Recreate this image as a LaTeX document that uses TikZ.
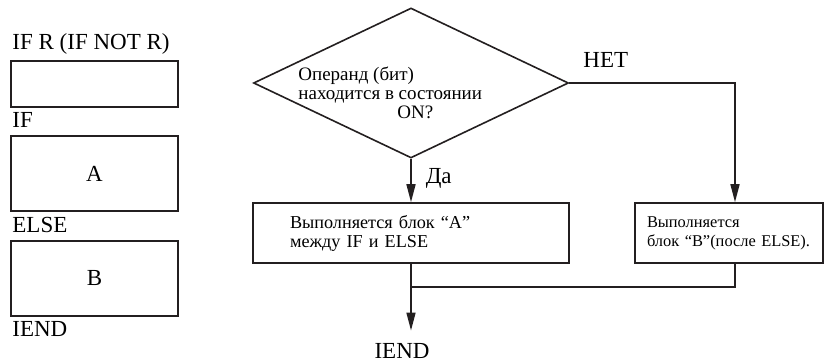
\documentclass[tikz,border=0pt]{standalone}
\usepackage{fontspec}
\setmainfont{Liberation Serif}
\usetikzlibrary{shapes.geometric,arrows.meta}
\definecolor{flowline}{RGB}{35,31,32}
\tikzset{
  flowlink/.style={draw=flowline,line width=0.8pt},
  flowarr/.style={flowlink,-{Triangle[length=9pt,width=4.5pt]}},
  flowbox/.style={flowlink,rectangle,inner sep=0pt},
  flowcond/.style={flowlink,diamond,inner sep=0pt,minimum width=157.5pt,minimum height=75pt},
  biglabel/.style={font=\fontsize{11.5}{13}\selectfont,inner sep=0pt},
  smalltext/.style={font=\fontsize{#1}{9.5}\selectfont,align=left,inner sep=0pt},
  smalltext/.default=8.5
}
\newcommand{\ladderlabel}[3]{%
  \node[biglabel,anchor=base west] (#1) at (12,#2) {#3};
}

\begin{document}
\begin{tikzpicture}[x=0.5pt,y=0.5pt]
    \useasboundingbox (0,0) rectangle (824,362);
    % left column: the instruction layout
    \ladderlabel{lhead}{312}{IF R (IF NOT R)}
    \node[flowbox,minimum width=83.5pt,minimum height=23pt] (lcond) at (94.5,278) {};
    \ladderlabel{lif}{234}{IF}
    \node[flowbox,biglabel,minimum width=83.5pt,minimum height=37.5pt] (lblka) at (94.5,188.5) {A};
    \ladderlabel{lelse}{129}{ELSE}
    \node[flowbox,biglabel,minimum width=83.5pt,minimum height=37.5pt] (lblkb) at (94.5,83.5) {B};
    \ladderlabel{lend}{25}{IEND}
    % right part: the flow chart
    \node[flowcond] (cond) at (411,279) {};
    \node[smalltext=9.5,anchor=north west] (condtxt) at (298,295)
      {Операнд (бит)\\находится в состоянии\\\hspace*{49.5pt}ON?};
    \node[flowbox,smalltext=9.1,minimum width=158pt,minimum height=30pt,text width=121pt] (blka) at (411,129)
      {Выполняется блок “A”\\между IF и ELSE};
    \node[flowbox,smalltext=8.2,minimum width=94pt,minimum height=30pt,text width=82pt] (blkb) at (729,129)
      {Выполняется\\блок “B”(после ELSE).};
    \coordinate (join) at (411,75);
    \node[biglabel,anchor=base] (fin) at (402,3) {IEND};
    \draw[flowarr] (cond.south) -- (blka.north)
      node[pos=0.45,right=7pt,biglabel] (yes) {Да};
    \draw[flowarr] (cond.east) -| ([xshift=3pt]blkb.north);
    \node[biglabel,anchor=base west] (no) at (583,294) {НЕТ};
    \draw[flowlink] (blka.south) -- (join);
    \draw[flowlink] ([xshift=3pt]blkb.south) |- (join);
    \draw[flowarr] (join) -- ([yshift=6.5pt]join |- fin.north);
\end{tikzpicture}
\end{document}
